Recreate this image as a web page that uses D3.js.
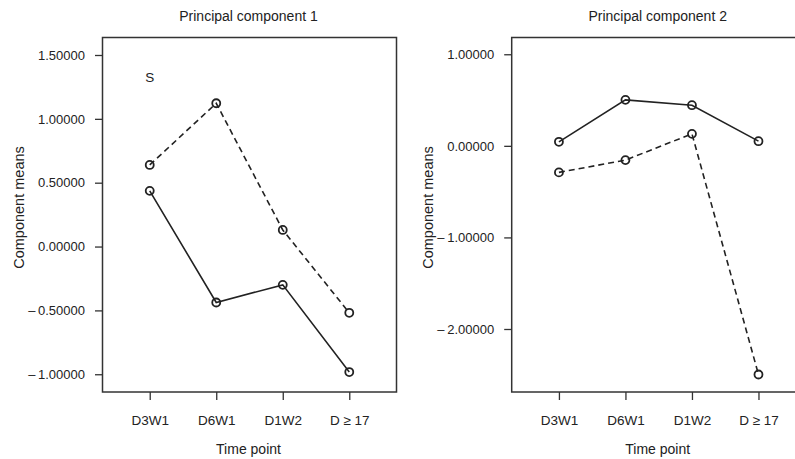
<!DOCTYPE html>
<html>
<head>
<meta charset="utf-8">
<script src="https://cdn.jsdelivr.net/npm/d3@7"></script>
<style>
  body { margin: 0; background: #fff; }
  svg { display: block; font-family: "Liberation Sans", Arial, sans-serif; }
  text { fill: #222; }
</style>
</head>
<body>
<div id="chart"></div>
<script>
// Time points shared by both panels
const timePoints = ["D3W1", "D6W1", "D1W2", "D \u2265 17"];

// Principal component 1 means
const pc1Solid = [0.436, -0.438, -0.300, -0.983];
const pc1Dashed = [0.639, 1.122, 0.130, -0.519];
const pc1Ticks = [1.5, 1.0, 0.5, 0.0, -0.5, -1.0];

// Principal component 2 means
const pc2Solid = [0.044, 0.502, 0.444, 0.051];
const pc2Dashed = [-0.290, -0.156, 0.131, -2.497];
const pc2Ticks = [1.0, 0.0, -1.0, -2.0];

const W = 795, H = 459;
const svg = d3.select("#chart").append("svg")
  .attr("width", W).attr("height", H);

const fmt = v => (v < 0 ? "\u2013\u2009" : "") + d3.format(".5f")(Math.abs(v));

function panel(opts) {
  const left = opts.left, top = 37.5, width = 294, height = 354.5;
  const g = svg.append("g");

  const x = d3.scalePoint().domain(timePoints)
    .range([left, left + width]).padding(0.71);
  const y = d3.scaleLinear().domain(opts.yDomain).range([top + height, top]);

  // frame
  g.append("rect")
    .attr("x", left).attr("y", top)
    .attr("width", width).attr("height", height)
    .attr("fill", "none").attr("stroke", "#333").attr("stroke-width", 1.5);

  // y axis ticks
  const yAxis = g.append("g")
    .attr("transform", `translate(${left},0)`)
    .call(d3.axisLeft(y).tickValues(opts.ticks).tickFormat(fmt).tickSize(7.5).tickPadding(10));
  yAxis.select(".domain").remove();
  yAxis.selectAll("line").attr("stroke", "#333").attr("stroke-width", 1.3);
  yAxis.selectAll("text").style("font-size", "13px")
    .style("font-family", "Liberation Sans, Arial, sans-serif").attr("fill", "#222");

  // x axis ticks
  const xAxis = g.append("g")
    .attr("transform", `translate(0,${top + height})`)
    .call(d3.axisBottom(x).tickSize(8).tickPadding(15));
  xAxis.select(".domain").remove();
  xAxis.selectAll("line").attr("stroke", "#333").attr("stroke-width", 1.3);
  xAxis.selectAll("text").style("font-size", "13.5px")
    .style("font-family", "Liberation Sans, Arial, sans-serif").attr("fill", "#222");

  // titles
  g.append("text")
    .attr("x", left + width / 2 - 1).attr("y", 21)
    .attr("text-anchor", "middle").style("font-size", "14px")
    .text(opts.title);
  g.append("text")
    .attr("x", left + width / 2 - 1).attr("y", 454)
    .attr("text-anchor", "middle").style("font-size", "14px")
    .text("Time point");
  g.append("text")
    .attr("transform", `translate(${opts.ytitleX},207.5) rotate(-90)`)
    .attr("text-anchor", "middle").style("font-size", "14.5px")
    .text("Component means");

  const line = d3.line()
    .x((d, i) => x(timePoints[i]))
    .y(d => y(d));

  [[opts.dashed, "6,4"], [opts.solid, null]].forEach(([vals, dash]) => {
    g.append("path")
      .datum(vals)
      .attr("d", line)
      .attr("fill", "none")
      .attr("stroke", "#222")
      .attr("stroke-width", 1.6)
      .attr("stroke-dasharray", dash);
    g.selectAll(null)
      .data(vals)
      .enter().append("circle")
      .attr("cx", (d, i) => x(timePoints[i]))
      .attr("cy", d => y(d))
      .attr("r", 4)
      .attr("fill", "none")
      .attr("stroke", "#222")
      .attr("stroke-width", 1.8);
  });

  if (opts.label) {
    g.append("text")
      .attr("x", x(timePoints[0])).attr("y", 82)
      .attr("text-anchor", "middle").style("font-size", "13.5px")
      .text(opts.label);
  }
}

panel({
  left: 102.5, title: "Principal component 1", yDomain: [-1.139, 1.637],
  ticks: pc1Ticks, solid: pc1Solid, dashed: pc1Dashed, ytitleX: 24, label: "S"
});
panel({
  left: 511.7, title: "Principal component 2", yDomain: [-2.688, 1.183],
  ticks: pc2Ticks, solid: pc2Solid, dashed: pc2Dashed, ytitleX: 433
});
</script>
</body>
</html>
